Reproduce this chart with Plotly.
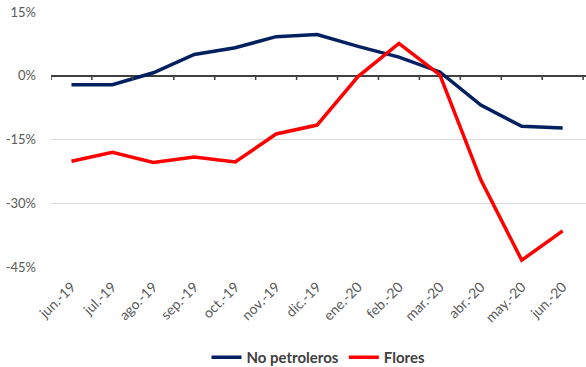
import plotly.graph_objects as go

# Monthly categories and year-on-year growth (%) of each export series
months = ["jun.-19", "jul.-19", "ago.-19", "sep.-19", "oct.-19", "nov.-19", "dic.-19",
          "ene.-20", "feb.-20", "mar.-20", "abr.-20", "may.-20", "jun.-20"]
no_petroleros = [-2.1, -2.1, 0.7, 5.0, 6.6, 9.2, 9.7, 6.9, 4.4, 0.9, -6.9, -11.9, -12.3]
flores = [-20.1, -18.0, -20.4, -19.1, -20.3, -13.7, -11.6, -0.2, 7.6, 0.2, -24.5, -43.4, -36.5]

y_ticks = [15, 0, -15, -30, -45]
y_tick_text = ["15%", "0%", "-15%", "-30%", "-45%"]

font_family = "Lato, 'Open Sans', sans-serif"
gray = "#595959"

fig = go.Figure()
fig.add_trace(go.Scatter(x=list(range(len(months))), y=no_petroleros, mode="lines",
                         name="No petroleros", line=dict(color="#002060", width=3.5)))
fig.add_trace(go.Scatter(x=list(range(len(months))), y=flores, mode="lines",
                         name="Flores", line=dict(color="#FF0000", width=3.5)))

# Category tick marks hanging below the zero axis line
shapes = []
for i in range(len(months) + 1):
    shapes.append(dict(type="line", xref="x", yref="y", x0=i - 0.5, x1=i - 0.5,
                       y0=0, y1=-1.0, line=dict(color="#404040", width=1.5)))

fig.update_layout(
    width=586, height=367,
    margin=dict(l=51, r=0, t=12, b=100, autoexpand=False),
    paper_bgcolor="white", plot_bgcolor="white",
    font=dict(family=font_family, color=gray),
    showlegend=True,
    legend=dict(orientation="h", x=0.5, xanchor="center", y=-0.355, yanchor="middle",
                font=dict(size=15, color="#404040", weight="bold"), itemwidth=30,
                tracegroupgap=0),
    shapes=shapes,
    xaxis=dict(range=[-0.5, 12.57], tickmode="array", tickvals=list(range(len(months))),
               ticktext=months, tickangle=-45, tickfont=dict(size=14, color=gray),
               showgrid=False, zeroline=False, showline=False, ticks="",
               ticklabelstandoff=8, automargin=False),
    yaxis=dict(range=[-45, 15], tickmode="array", tickvals=y_ticks, ticktext=y_tick_text,
               tickfont=dict(size=13, color=gray), showgrid=True, gridcolor="#d9d9d9",
               gridwidth=1, zeroline=True, zerolinecolor="#404040", zerolinewidth=1.5,
               showline=False, ticks="", ticklabelstandoff=14, automargin=False),
)

fig.write_html("out.html")
